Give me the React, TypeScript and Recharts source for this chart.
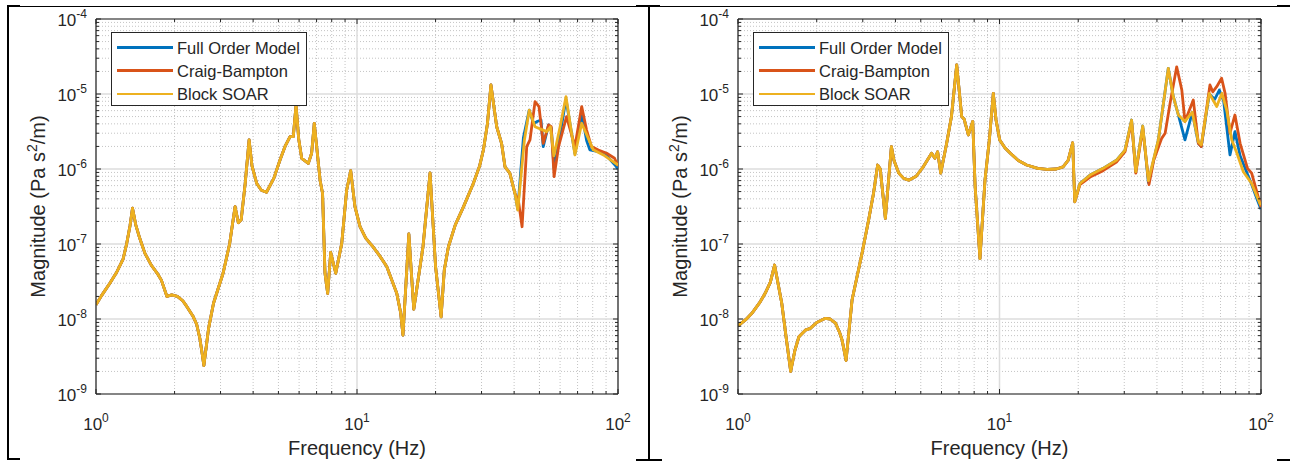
import React from 'react';
import { LineChart, Line, XAxis, YAxis, CartesianGrid, ReferenceLine } from 'recharts';

const FONT = '"Liberation Sans", Arial, Helvetica, sans-serif';
const INK = '#262626';

const SERIES_NAMES = ['Full Order Model', 'Craig-Bampton', 'Block SOAR'];
const SERIES_COLORS = ['#0072BD', '#D95319', '#EDB120'];

const xMajor = [1, 10, 100];
const yMajor = [1e-9, 1e-8, 1e-7, 1e-6, 1e-5, 1e-4];
const minorSteps = [2, 3, 4, 5, 6, 7, 8, 9];

const xMinor = xMajor.slice(0, -1).flatMap((d) => minorSteps.map((k) => k * d));
const yMinor = yMajor.slice(0, -1).flatMap((d) => minorSteps.map((k) => k * d));
const xTicks = [...xMajor, ...xMinor].sort((a, b) => a - b);
const yTicks = [...yMajor, ...yMinor].sort((a, b) => a - b);

// left panel: [frequency Hz, magnitude] - all three models coincide up to ~40 Hz
const leftShared: [number, number][] = [
  [1, 1.55e-8], [1.05, 2.05e-8], [1.13, 3.0e-8], [1.2, 4.2e-8], [1.27, 6.3e-8], [1.31, 1.0e-7],
  [1.35, 1.75e-7], [1.38, 3.0e-7], [1.42, 1.8e-7], [1.47, 1.2e-7], [1.54, 7.5e-8], [1.63, 5.2e-8],
  [1.73, 3.9e-8], [1.78, 3.3e-8], [1.87, 2.0e-8], [1.95, 2.1e-8], [2.05, 2.0e-8], [2.15, 1.75e-8],
  [2.23, 1.46e-8], [2.35, 1.1e-8], [2.43, 8.5e-9], [2.5, 5.5e-9], [2.55, 3.5e-9], [2.59, 2.4e-9],
  [2.7, 7.5e-9], [2.82, 1.62e-8], [3.07, 4.1e-8], [3.25, 1.0e-7], [3.41, 3.15e-7], [3.51, 1.92e-7],
  [3.6, 2.1e-7], [3.73, 6.5e-7], [3.86, 2.44e-6], [3.96, 1.1e-6], [4.13, 6.4e-7], [4.3, 5.2e-7],
  [4.5, 4.9e-7], [4.8, 7.5e-7], [5.07, 1.32e-6], [5.3, 2.0e-6], [5.54, 2.7e-6], [5.7, 2.7e-6],
  [5.84, 7.1e-6], [5.98, 2.5e-6], [6.14, 1.39e-6], [6.51, 1.19e-6], [6.7, 1.62e-6], [6.86, 4.07e-6],
  [7.05, 1.6e-6], [7.22, 7.1e-7], [7.38, 4.7e-7], [7.54, 4.07e-8], [7.72, 2.2e-8], [7.93, 7.7e-8],
  [8.29, 4.07e-8], [8.74, 1.02e-7], [9.13, 5.25e-7], [9.46, 9.5e-7], [9.82, 3.15e-7], [10.27, 1.7e-7],
  [10.8, 1.2e-7], [11.5, 9.2e-8], [12.2, 7.0e-8], [13.0, 5.0e-8], [14.2, 2.2e-8], [14.7, 1.2e-8],
  [15.0, 6.1e-9], [15.8, 1.36e-7], [16.5, 1.35e-8], [17.9, 9.2e-8], [19.05, 8.9e-7], [20.0, 5.0e-8],
  [21.0, 1.07e-8], [21.6, 4.5e-8], [22.4, 9.2e-8], [23.8, 1.8e-7], [25.6, 3.15e-7], [27.9, 6.4e-7],
  [29.5, 1.1e-6], [30.5, 1.79e-6], [31.6, 4.0e-6], [32.6, 1.32e-5], [34.3, 3.66e-6], [35.8, 2.2e-6],
  [36.9, 1.07e-6], [38.5, 8.8e-7], [40.3, 4.7e-7],
];

const leftFomTail: [number, number][] = [
  [41.3, 2.9e-7], [43.4, 2.6e-6], [45.7, 6.1e-6], [47.5, 4.0e-6], [49.0, 4.3e-6], [50.7, 4.5e-6],
  [51.7, 1.99e-6], [54.2, 3.87e-6], [55.5, 3.5e-6], [56.9, 1.0e-6], [59.2, 2.2e-6], [63.2, 8.5e-6],
  [68.4, 1.6e-6], [72.6, 5.5e-6], [75.8, 2.4e-6], [78.0, 1.8e-6], [84.1, 1.7e-6], [90.5, 1.5e-6],
  [97, 1.15e-6], [100, 1.0e-6],
];

const leftCbTail: [number, number][] = [
  [41.5, 3.87e-7], [42.9, 1.7e-7], [44.7, 1.99e-6], [46.0, 2.44e-6], [48.1, 7.9e-6], [49.8, 6.8e-6],
  [51.7, 2.2e-6], [54.2, 3.87e-6], [55.5, 3.66e-6], [56.9, 7.9e-7], [59.2, 1.99e-6], [63.5, 5.0e-6],
  [68.4, 1.99e-6], [72.6, 6.8e-6], [75.8, 3.3e-6], [79.1, 1.99e-6], [84.1, 1.79e-6], [90.5, 1.62e-6],
  [97, 1.39e-6], [100, 1.1e-6],
];

const leftSoarTail: [number, number][] = [
  [41.3, 2.84e-7], [43.8, 2.44e-6], [45.7, 6.1e-6], [48.1, 3.66e-6], [53.3, 3.15e-6], [55.1, 3.66e-6],
  [56.8, 1.5e-6], [60.0, 3.66e-6], [63.2, 9.2e-6], [68.4, 1.54e-6], [72.6, 4.07e-6], [80.4, 1.8e-6],
  [87.9, 1.54e-6], [100, 1.13e-6],
];

// right panel - models coincide up to ~19 Hz
const rightShared: [number, number][] = [
  [1, 8.1e-9], [1.07, 9.8e-9], [1.13, 1.19e-8], [1.21, 1.65e-8], [1.27, 2.2e-8], [1.33, 3.1e-8],
  [1.38, 5.25e-8], [1.47, 1.62e-8], [1.53, 5.5e-9], [1.59, 2.0e-9], [1.65, 3.8e-9], [1.71, 5.8e-9],
  [1.81, 7.1e-9], [1.89, 7.5e-9], [2.0, 9.0e-9], [2.16, 1.02e-8], [2.25, 1.0e-8], [2.36, 8.8e-9],
  [2.45, 6.5e-9], [2.5, 5.25e-9], [2.59, 2.8e-9], [2.73, 1.79e-8], [2.98, 7.5e-8], [3.16, 2.1e-7],
  [3.3, 4.8e-7], [3.42, 1.13e-6], [3.5, 1.0e-6], [3.66, 2.2e-7], [3.86, 1.99e-6], [3.95, 1.3e-6],
  [4.12, 8.8e-7], [4.3, 7.5e-7], [4.5, 7.1e-7], [4.8, 8.0e-7], [5.11, 1.07e-6], [5.5, 1.62e-6],
  [5.66, 1.39e-6], [5.8, 1.7e-6], [5.96, 8.8e-7], [6.28, 2.2e-6], [6.55, 5.0e-6], [6.86, 2.44e-5],
  [7.17, 5.0e-6], [7.33, 4.6e-6], [7.6, 2.84e-6], [7.9, 4.3e-6], [8.07, 5.8e-7], [8.42, 6.4e-8],
  [8.8, 7.1e-7], [9.15, 2.5e-6], [9.47, 1.02e-5], [9.7, 4.5e-6], [10.02, 2.44e-6], [10.5, 1.9e-6],
  [11.0, 1.62e-6], [11.8, 1.3e-6], [12.7, 1.13e-6], [14.0, 1.02e-6], [15.2, 9.9e-7], [16.5, 1.0e-6],
  [17.5, 1.07e-6], [18.3, 1.3e-6], [19.05, 2.24e-6], [19.4, 3.66e-7],
];

const rightFomTail: [number, number][] = [
  [20.3, 6.4e-7], [22.2, 8.3e-7], [24.9, 1.02e-6], [28.1, 1.32e-6], [30.2, 1.79e-6], [32.0, 4.5e-6],
  [33.2, 9.2e-7], [35.3, 3.74e-6], [37.1, 6.6e-7], [40.5, 2.44e-6], [44.2, 2.2e-5], [46.2, 9.2e-6],
  [48.3, 5.25e-6], [51.2, 2.44e-6], [54.6, 5.7e-6], [57.6, 2.2e-6], [59.1, 2.0e-6], [63.4, 1.0e-5],
  [66.5, 8.5e-6], [69.3, 1.13e-5], [72.0, 8.0e-6], [76.1, 1.54e-6], [79.5, 3.15e-6], [83.2, 1.5e-6],
  [88.8, 8.5e-7], [92.1, 6.2e-7], [97, 3.8e-7], [100, 2.9e-7],
];

const rightCbTail: [number, number][] = [
  [20.3, 6.2e-7], [22.2, 7.8e-7], [24.9, 9.5e-7], [28.1, 1.25e-6], [30.2, 1.7e-6], [32.0, 4.3e-6],
  [33.2, 8.8e-7], [35.3, 3.5e-6], [37.3, 6.2e-7], [38.9, 1.32e-6], [41.7, 2.56e-6], [43.0, 3.0e-6],
  [44.9, 7.5e-6], [47.6, 2.3e-5], [49.8, 1.13e-5], [51.2, 4.3e-6], [55.1, 8.3e-6], [57.6, 2.2e-6],
  [59.1, 1.99e-6], [63.8, 1.32e-5], [65.4, 1.07e-5], [67.7, 1.25e-5], [70.7, 1.62e-5], [72.9, 1.02e-5],
  [76.1, 3.0e-6], [79.5, 5.25e-6], [83.2, 2.2e-6], [88.8, 1.02e-6], [92.1, 8.8e-7], [100, 3.1e-7],
];

const rightSoarTail: [number, number][] = [
  [20.3, 6.4e-7], [22.2, 8.3e-7], [24.9, 1.02e-6], [28.1, 1.32e-6], [30.2, 1.79e-6], [32.0, 4.5e-6],
  [33.2, 9.2e-7], [35.3, 3.74e-6], [37.1, 7.0e-7], [40.5, 2.44e-6], [44.2, 2.2e-5], [46.2, 9.2e-6],
  [48.3, 5.25e-6], [51.2, 4.3e-6], [53.5, 5.25e-6], [54.6, 5.7e-6], [57.6, 2.3e-6], [59.1, 2.1e-6],
  [63.4, 1.02e-5], [67.7, 6.8e-6], [70.9, 1.02e-5], [73.9, 6.1e-6], [77.3, 2.44e-6], [80.9, 1.62e-6],
  [85.6, 9.2e-7], [92.1, 6.4e-7], [98.9, 3.5e-7], [100, 3.3e-7],
];

const toPoints = (pairs: [number, number][]) => pairs.map(([f, v]) => ({ f, v }));

const leftSeries = [leftFomTail, leftCbTail, leftSoarTail].map((tail) => toPoints([...leftShared, ...tail]));
const rightSeries = [rightFomTail, rightCbTail, rightSoarTail].map((tail) => toPoints([...rightShared, ...tail]));

const isMajor = (v: number) => Math.abs(Math.log10(v) - Math.round(Math.log10(v))) < 1e-6;

const CHART_W = 640;
const CHART_H = 461;
const Y_AXIS_W = 96;
const X_AXIS_H = 67;
const TOP = 19;
const PLOT_H = CHART_H - TOP - X_AXIS_H;

function Panel({ series, rightMargin }: { series: { f: number; v: number }[][]; rightMargin: number }) {
  const plotW = CHART_W - Y_AXIS_W - rightMargin;

  const YTick = (props: any) => {
    const { x, y, payload } = props;
    const major = isMajor(payload.value);
    const len = major ? 5 : 3;
    const exp = Math.round(Math.log10(payload.value));
    return (
      <g>
        <line x1={x} x2={x + len} y1={y} y2={y} stroke={INK} strokeWidth={1} />
        <line x1={x + plotW} x2={x + plotW - len} y1={y} y2={y} stroke={INK} strokeWidth={1} />
        {major && (
          <text x={x - 9} y={y + 7} textAnchor="end" fill={INK} fontSize={17} fontFamily={FONT}>
            10<tspan dy={-8} fontSize={12}>{exp}</tspan>
          </text>
        )}
      </g>
    );
  };

  const XTick = (props: any) => {
    const { x, y, payload } = props;
    const major = isMajor(payload.value);
    const len = major ? 5 : 3;
    const exp = Math.round(Math.log10(payload.value));
    return (
      <g>
        <line x1={x} x2={x} y1={y} y2={y - len} stroke={INK} strokeWidth={1} />
        <line x1={x} x2={x} y1={y - PLOT_H} y2={y - PLOT_H + len} stroke={INK} strokeWidth={1} />
        {major && (
          <text x={x} y={y + 36} textAnchor="middle" fill={INK} fontSize={17} fontFamily={FONT}>
            10<tspan dy={-8} fontSize={12}>{exp}</tspan>
          </text>
        )}
      </g>
    );
  };

  const XTitle = (props: any) => {
    const vb = props.viewBox;
    return (
      <text x={vb.x + vb.width / 2} y={vb.y + 61} textAnchor="middle" fill={INK} fontSize={20} fontFamily={FONT}>
        Frequency (Hz)
      </text>
    );
  };

  const YTitle = (props: any) => {
    const vb = props.viewBox;
    const cx = vb.x + 44.5;
    const cy = vb.y + vb.height / 2;
    return (
      <text x={cx} y={cy} transform={`rotate(-90, ${cx}, ${cy})`} textAnchor="middle" fill={INK} fontSize={20} fontFamily={FONT}>
        Magnitude (Pa s<tspan dy={-8} fontSize={14}>2</tspan><tspan dy={8}>/m)</tspan>
      </text>
    );
  };

  return (
    <div style={{ position: 'relative', width: CHART_W, height: CHART_H }}>
      <LineChart width={CHART_W} height={CHART_H} margin={{ top: TOP, right: rightMargin, bottom: 0, left: 0 }}>
        <CartesianGrid
          horizontalValues={yMinor}
          verticalValues={xMinor}
          stroke="#c4c4c4"
          strokeDasharray="1 2"
          strokeWidth={1}
        />
        <CartesianGrid
          horizontalValues={yMajor}
          verticalValues={xMajor}
          stroke="#dcdcdc"
          strokeWidth={1.5}
        />
        <XAxis
          type="number"
          dataKey="f"
          scale="log"
          domain={[1, 100]}
          allowDataOverflow
          ticks={xTicks}
          interval={0}
          tick={<XTick />}
          tickSize={0}
          tickMargin={0}
          height={X_AXIS_H}
          axisLine={{ stroke: INK, strokeWidth: 1.2 }}
          label={<XTitle />}
        />
        <YAxis
          type="number"
          dataKey="v"
          scale="log"
          domain={[1e-9, 1e-4]}
          allowDataOverflow
          ticks={yTicks}
          interval={0}
          tick={<YTick />}
          tickSize={0}
          tickMargin={0}
          width={Y_AXIS_W}
          axisLine={{ stroke: INK, strokeWidth: 1.2 }}
          label={<YTitle />}
        />
        <ReferenceLine y={1e-4} stroke={INK} strokeWidth={1.2} />
        <ReferenceLine x={100} stroke={INK} strokeWidth={1.2} />
        {series.map((pts, i) => (
          <Line
            key={SERIES_NAMES[i]}
            data={pts}
            dataKey="v"
            name={SERIES_NAMES[i]}
            type="linear"
            stroke={SERIES_COLORS[i]}
            strokeWidth={2.8}
            strokeLinejoin="round"
            dot={false}
            isAnimationActive={false}
          />
        ))}
      </LineChart>
      <div
        style={{
          position: 'absolute',
          left: 111,
          top: 32,
          width: 196,
          height: 74,
          border: `1.3px solid ${INK}`,
          background: '#fff',
          boxSizing: 'border-box',
          fontFamily: FONT,
          fontSize: 16.5,
          color: INK,
        }}
      >
        {SERIES_NAMES.map((name, i) => (
          <div key={name} style={{ position: 'absolute', left: 0, top: 3 + i * 23.3, height: 23, width: '100%' }}>
            <div style={{ position: 'absolute', left: 5, top: 10, width: 56, height: 2.8, background: SERIES_COLORS[i] }} />
            <div style={{ position: 'absolute', left: 65, top: 1.5, whiteSpace: 'nowrap', lineHeight: '20px' }}>{name}</div>
          </div>
        ))}
      </div>
    </div>
  );
}

const rule = (left: number, top: number, width: number, height: number) => (
  <div style={{ position: 'absolute', left, top, width, height, background: '#000' }} />
);

export default function App() {
  return (
    <div style={{ position: 'absolute', left: 0, top: 0, width: 1290, height: 461, background: '#fff', overflow: 'hidden' }}>
      {rule(7, 6, 1283, 1)}
      {rule(7, 5, 13, 2)}
      {rule(636, 5, 24, 2)}
      {rule(1277, 5, 13, 2)}
      {rule(7, 6, 1.5, 453)}
      {rule(648, 6, 1.5, 454)}
      {rule(7, 458, 13, 1.5)}
      {rule(636, 459, 26, 1.5)}
      {rule(1277, 459, 13, 1.5)}
      <div style={{ position: 'absolute', left: 0, top: 0 }}>
        <Panel series={leftSeries} rightMargin={22} />
      </div>
      <div style={{ position: 'absolute', left: 642, top: 0 }}>
        <Panel series={rightSeries} rightMargin={21} />
      </div>
    </div>
  );
}
